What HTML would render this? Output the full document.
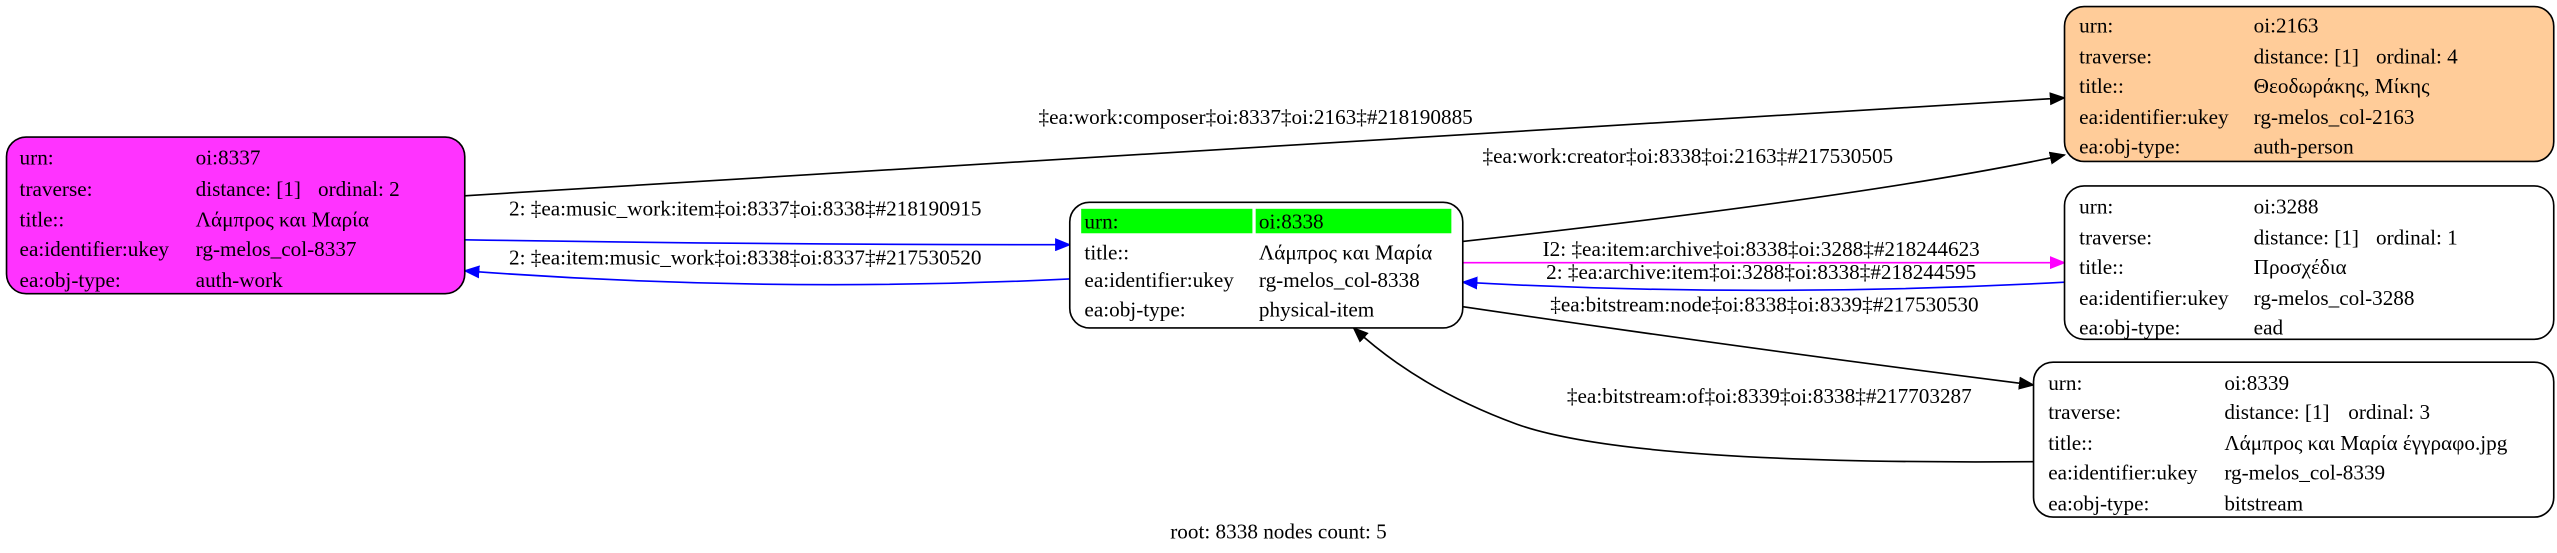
<!DOCTYPE html>
<html><head><meta charset="utf-8"><style>
html,body{margin:0;padding:0;background:#fff;}
svg{display:block;}
text{font-family:"Liberation Serif",serif;font-size:13px;fill:#000;}
</style></head><body>
<svg width="2557" height="553" viewBox="0 0 1568 339" preserveAspectRatio="none" xmlns="http://www.w3.org/2000/svg">
<defs>
<marker id="ab" markerWidth="10" markerHeight="8" refX="9" refY="4" orient="auto" markerUnits="userSpaceOnUse"><path d="M0,0 L10,4 L0,8 z" fill="#000"/></marker>
<marker id="ablue" markerWidth="10" markerHeight="8" refX="9" refY="4" orient="auto" markerUnits="userSpaceOnUse"><path d="M0,0 L10,4 L0,8 z" fill="#0000ff"/></marker>
<marker id="amag" markerWidth="10" markerHeight="8" refX="9" refY="4" orient="auto" markerUnits="userSpaceOnUse"><path d="M0,0 L10,4 L0,8 z" fill="#ff00ff"/></marker>
</defs>
<!-- edges -->
<path d="M285,120 L1266,60" stroke="#000" fill="none" marker-end="url(#ab)"/>
<text x="770" y="76" text-anchor="middle">‡ea:work:composer‡oi:8337‡oi:2163‡#218190885</text>
<path d="M285,147 Q470,150 656,150" stroke="#0000ff" fill="none" marker-end="url(#ablue)"/>
<text x="457" y="132" text-anchor="middle">2: ‡ea:music_work:item‡oi:8337‡oi:8338‡#218190915</text>
<path d="M656,171 Q470,180 285,166" stroke="#0000ff" fill="none" marker-end="url(#ablue)"/>
<text x="457" y="162" text-anchor="middle">2: ‡ea:item:music_work‡oi:8338‡oi:8337‡#217530520</text>
<path d="M897,148 Q1150,120 1266,95" stroke="#000" fill="none" marker-end="url(#ab)"/>
<text x="1035" y="100" text-anchor="middle">‡ea:work:creator‡oi:8338‡oi:2163‡#217530505</text>
<path d="M897,161 L1266,161" stroke="#ff00ff" fill="none" marker-end="url(#amag)"/>
<text x="1080" y="157" text-anchor="middle">I2: ‡ea:item:archive‡oi:8338‡oi:3288‡#218244623</text>
<path d="M1266,173 Q1080,183 897,173" stroke="#0000ff" fill="none" marker-end="url(#ablue)"/>
<text x="1080" y="171" text-anchor="middle">2: ‡ea:archive:item‡oi:3288‡oi:8338‡#218244595</text>
<path d="M897,188 Q1080,215 1247,236" stroke="#000" fill="none" marker-end="url(#ab)"/>
<text x="1082" y="191" text-anchor="middle">‡ea:bitstream:node‡oi:8338‡oi:8339‡#217530530</text>
<path d="M1247,283 Q1000,285 930,260 Q870,238 830,201" stroke="#000" fill="none" marker-end="url(#ab)"/>
<text x="1085" y="247" text-anchor="middle">‡ea:bitstream:of‡oi:8339‡oi:8338‡#217703287</text>
<!-- node 8337 -->
<rect x="4" y="84" width="281" height="96" rx="12" fill="#ff33ff" stroke="#000"/>
<text x="12" y="101">urn:</text><text x="120" y="101">oi:8337</text>
<text x="12" y="120">traverse:</text><text x="120" y="120">distance: [1]</text><text x="195" y="120">ordinal: 2</text>
<text x="12" y="139">title::</text><text x="120" y="139">Λάμπρος και Μαρία</text>
<text x="12" y="157">ea:identifier:ukey</text><text x="120" y="157">rg-melos_col-8337</text>
<text x="12" y="176">ea:obj-type:</text><text x="120" y="176">auth-work</text>
<!-- node 8338 -->
<rect x="656" y="124" width="241" height="77" rx="12" fill="#fff" stroke="#000"/>
<rect x="663" y="128" width="105" height="15" fill="#00ff00"/>
<rect x="770" y="128" width="120" height="15" fill="#00ff00"/>
<text x="665" y="140">urn:</text><text x="772" y="140">oi:8338</text>
<text x="665" y="159">title::</text><text x="772" y="159">Λάμπρος και Μαρία</text>
<text x="665" y="176">ea:identifier:ukey</text><text x="772" y="176">rg-melos_col-8338</text>
<text x="665" y="194">ea:obj-type:</text><text x="772" y="194">physical-item</text>
<!-- node 2163 -->
<rect x="1266" y="4" width="300" height="95" rx="12" fill="#ffcc99" stroke="#000"/>
<text x="1275" y="20">urn:</text><text x="1382" y="20">oi:2163</text>
<text x="1275" y="39">traverse:</text><text x="1382" y="39">distance: [1]</text><text x="1457" y="39">ordinal: 4</text>
<text x="1275" y="57">title::</text><text x="1382" y="57">Θεοδωράκης, Μίκης</text>
<text x="1275" y="76">ea:identifier:ukey</text><text x="1382" y="76">rg-melos_col-2163</text>
<text x="1275" y="94">ea:obj-type:</text><text x="1382" y="94">auth-person</text>
<!-- node 3288 -->
<rect x="1266" y="114" width="300" height="94" rx="12" fill="#fff" stroke="#000"/>
<text x="1275" y="131">urn:</text><text x="1382" y="131">oi:3288</text>
<text x="1275" y="150">traverse:</text><text x="1382" y="150">distance: [1]</text><text x="1457" y="150">ordinal: 1</text>
<text x="1275" y="168">title::</text><text x="1382" y="168">Προσχέδια</text>
<text x="1275" y="187">ea:identifier:ukey</text><text x="1382" y="187">rg-melos_col-3288</text>
<text x="1275" y="205">ea:obj-type:</text><text x="1382" y="205">ead</text>
<!-- node 8339 -->
<rect x="1247" y="222" width="319" height="95" rx="12" fill="#fff" stroke="#000"/>
<text x="1256" y="239">urn:</text><text x="1364" y="239">oi:8339</text>
<text x="1256" y="257">traverse:</text><text x="1364" y="257">distance: [1]</text><text x="1440" y="257">ordinal: 3</text>
<text x="1256" y="276">title::</text><text x="1364" y="276">Λάμπρος και Μαρία έγγραφο.jpg</text>
<text x="1256" y="294">ea:identifier:ukey</text><text x="1364" y="294">rg-melos_col-8339</text>
<text x="1256" y="313">ea:obj-type:</text><text x="1364" y="313">bitstream</text>
<text x="784" y="330" text-anchor="middle">root: 8338 nodes count: 5</text>
</svg>
</body></html>
